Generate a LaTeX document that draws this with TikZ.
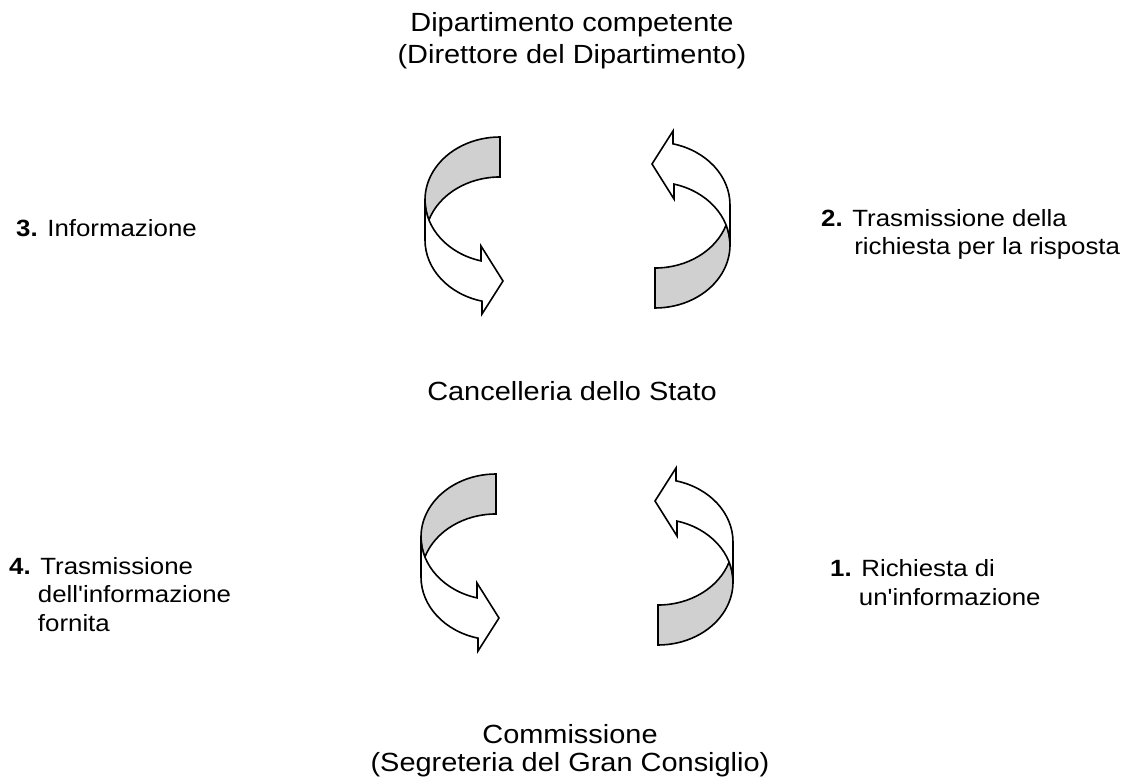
\documentclass[tikz,border=0pt]{standalone}
\usepackage{fontspec}
\setmainfont{Liberation Sans}[Ligatures=TeXOff]
\definecolor{bandgray}{RGB}{208,208,208}
\newcommand\curvedarrow[1]{%
\begin{scope}[#1]
 \path[band] (0,-63) arc[start angle=-90,end angle=-198.5,x radius=75,y radius=63]
    arc[start angle=-161.5,end angle=-90,x radius=75,y radius=63] -- cycle;
 \path[ribbon] (-75,0) -- (-75,40) arc[start angle=180,end angle=103.9,x radius=75,y radius=63]
    -- (-18,114) -- (3,81) -- (-19,46) -- (-19,60.9)
    arc[start angle=104.7,end angle=180,x radius=75,y radius=63] -- cycle;
\end{scope}}
\begin{document}
\begin{tikzpicture}[x=1pt,y=-1pt,
  outline/.style={draw=black, line width=1.6pt, line join=miter},
  band/.style={outline, fill=bandgray},
  ribbon/.style={outline, fill=white},
  maintext/.style={font=\fontsize{26.3}{32}\selectfont, inner sep=0pt, xscale=1.1, transform shape, align=center, anchor=base},
  labeltext/.style={font=\fontsize{23.5}{28.5}\selectfont, inner sep=0pt, xscale=1.1, transform shape, align=left, anchor=base west},
]
\useasboundingbox (0,0) rectangle (1141,783);

\curvedarrow{shift={(500,200)}}
\curvedarrow{shift={(655,245)}, rotate=180}
\curvedarrow{shift={(496,537)}}
\curvedarrow{shift={(658,582)}, rotate=180}

\node[maintext] (dip) at (572,64) {Dipartimento competente\\(Direttore del Dipartimento)};
\node[maintext] (canc) at (572,401) {Cancelleria dello Stato};
\node[maintext, font=\fontsize{26.3}{28}\selectfont] (comm) at (570,771) {Commissione\\(Segreteria del Gran Consiglio)};
\node[labeltext] (l3) at (16,237) {\textbf{3.} Informazione};
\node[labeltext] (l2) at (821,255) {\textbf{2.} Trasmissione della\\\phantom{\textbf{2.}} \,richiesta per la risposta};
\node[labeltext] (l4) at (9,631) {\textbf{4.} Trasmissione\\\phantom{\textbf{4.}} dell'informazione\\\phantom{\textbf{4.}} fornita};
\node[labeltext] (l1) at (830,605) {\textbf{1.} Richiesta di\\\phantom{\textbf{1.}} un'informazione};
\end{tikzpicture}
\end{document}
